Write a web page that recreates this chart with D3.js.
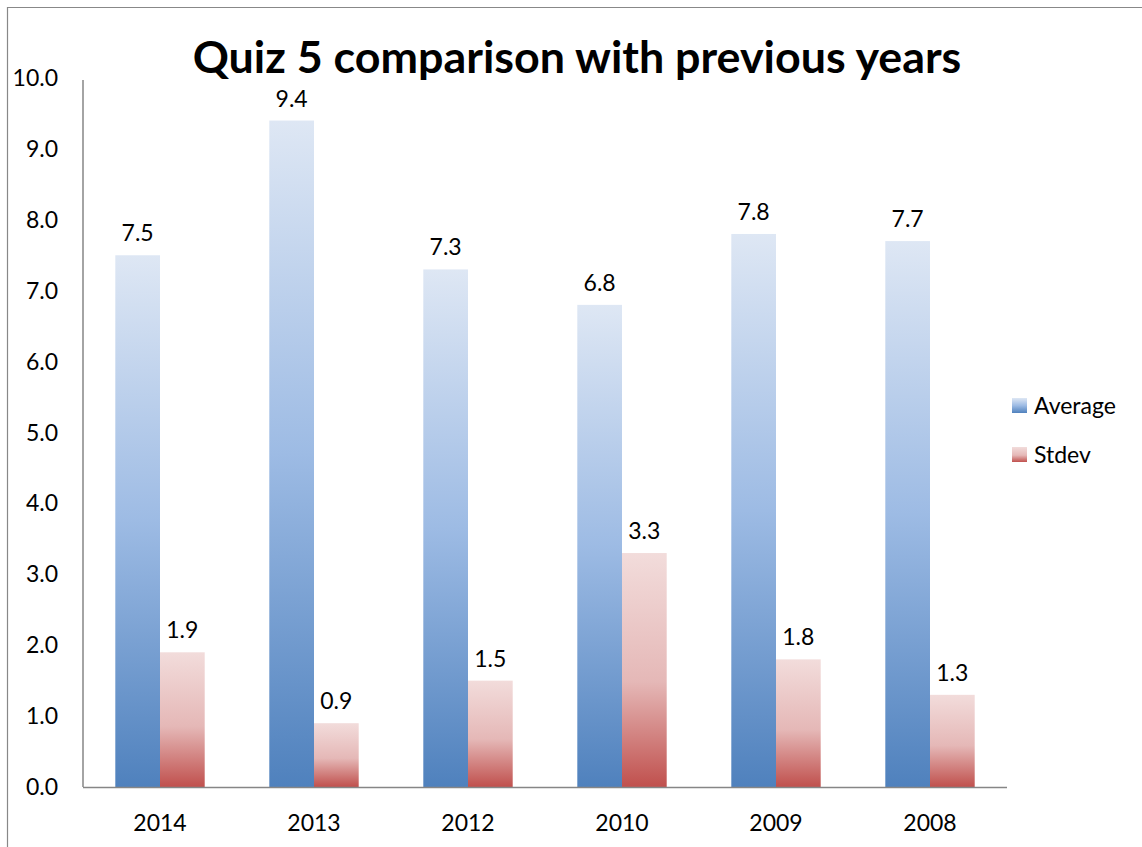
<!DOCTYPE html>
<html>
<head>
<meta charset="utf-8">
<script src="https://cdn.jsdelivr.net/npm/d3@7"></script>
<style>
  body { margin: 0; background: #fff; }
  text { font-family: Lato, "Open Sans", sans-serif; fill: #000; }
</style>
</head>
<body>
<svg id="chart"></svg>
<script>
// data
const years    = ["2014", "2013", "2012", "2010", "2009", "2008"];
const averages = [7.5, 9.4, 7.3, 6.8, 7.8, 7.7];
const stdevs   = [1.9, 0.9, 1.5, 3.3, 1.8, 1.3];
const seriesNames = ["Average", "Stdev"];
const yTicks   = [0, 1, 2, 3, 4, 5, 6, 7, 8, 9, 10];

const W = 1142, H = 847;
const M = { top: 78, right: 135, bottom: 60, left: 83 };
const FS = "23px";

const svg = d3.select("#chart").attr("width", W).attr("height", H);

// outer chart-area border (left + top only visible)
svg.append("path")
  .attr("d", "M7.5," + H + " V7.5 H" + W)
  .attr("fill", "none").attr("stroke", "#888").attr("stroke-width", 1.2);

const defs = svg.append("defs");
function grad(id, stops) {
  const g = defs.append("linearGradient").attr("id", id)
    .attr("x1", 0).attr("y1", 0).attr("x2", 0).attr("y2", 1);
  stops.forEach(s => g.append("stop").attr("offset", s[0]).attr("stop-color", s[1]));
}
grad("gAvg", [[0, "#dee7f4"], [0.5, "#9dbbe4"], [1, "#4f81bd"]]);
grad("gStd", [[0, "#f2dcdb"], [0.55, "#e5b8b7"], [1, "#c0504d"]]);

const x0 = d3.scaleBand().domain(years).range([M.left, W - M.right]);
const barW = 44.7;
const x1 = d3.scaleBand().domain(seriesNames)
  .range([x0.bandwidth() / 2 - barW, x0.bandwidth() / 2 + barW]);
const y = d3.scaleLinear().domain([0, 10]).range([H - M.bottom, M.top]);

// y tick labels (no tick marks)
svg.append("g").selectAll("text").data(yTicks).join("text")
  .attr("x", 58).attr("y", d => y(d)).attr("dy", "0.35em")
  .attr("text-anchor", "end").style("font-size", FS)
  .text(d => d3.format(".1f")(d));

const rows = years.map((yr, i) => ({ yr, vals: [
  { s: "Average", v: averages[i], fill: "url(#gAvg)" },
  { s: "Stdev", v: stdevs[i], fill: "url(#gStd)" }
]}));

const grp = svg.append("g").selectAll("g").data(rows).join("g")
  .attr("transform", d => "translate(" + x0(d.yr) + ",0)");

grp.selectAll("rect").data(d => d.vals).join("rect")
  .attr("x", d => x1(d.s)).attr("width", x1.bandwidth())
  .attr("y", d => y(d.v)).attr("height", d => y(0) - y(d.v))
  .attr("fill", d => d.fill);

grp.selectAll("text.val").data(d => d.vals).join("text")
  .attr("class", "val")
  .attr("x", d => x1(d.s) + x1.bandwidth() / 2)
  .attr("y", d => y(d.v) - 22).attr("dy", "0.35em")
  .attr("text-anchor", "middle").style("font-size", FS)
  .text(d => d3.format(".1f")(d.v));

// axes lines
svg.append("line")
  .attr("x1", M.left).attr("x2", M.left).attr("y1", y(10) + 2).attr("y2", y(0))
  .attr("stroke", "#868686").attr("stroke-width", 1.5);
svg.append("line")
  .attr("x1", M.left).attr("x2", W - M.right).attr("y1", y(0) + 0.5).attr("y2", y(0) + 0.5)
  .attr("stroke", "#868686").attr("stroke-width", 1.5);

// x labels
svg.append("g").selectAll("text").data(years).join("text")
  .attr("x", d => x0(d) + x0.bandwidth() / 2).attr("y", H - M.bottom + 36).attr("dy", "0.35em")
  .attr("text-anchor", "middle").style("font-size", FS)
  .text(d => d);

// title
const title = svg.append("text")
  .attr("x", 577).attr("y", 73).attr("text-anchor", "middle")
  .style("font-size", "40px").style("font-weight", "bold")
  .text("Quiz 5 comparison with previous years");
const tl = title.node().getComputedTextLength();
title.style("font-size", (40 * 769 / tl) + "px");

// legend
const leg = svg.append("g").selectAll("g").data(seriesNames).join("g")
  .attr("transform", (d, i) => "translate(1012," + (398 + i * 49) + ")");
leg.append("rect").attr("width", 15).attr("height", 15)
  .attr("fill", (d, i) => i === 0 ? "url(#gAvg)" : "url(#gStd)");
leg.append("text").attr("x", 22).attr("y", 8).attr("dy", "0.35em")
  .style("font-size", FS).text(d => d);
</script>
</body>
</html>
